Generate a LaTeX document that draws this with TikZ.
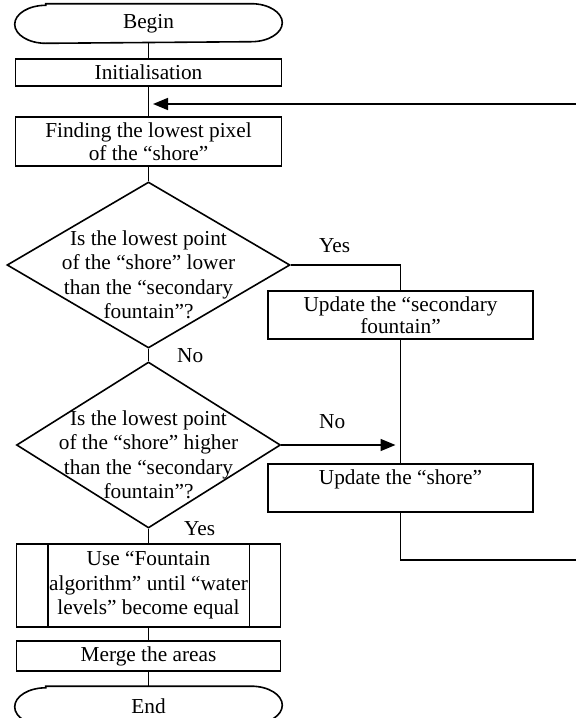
\documentclass[tikz,border=0pt]{standalone}
\usepackage{fontspec}
\setmainfont{Liberation Serif}
\usetikzlibrary{shapes.geometric,arrows.meta}

\begin{document}
\begin{tikzpicture} [x=1pt,y=-1pt,
			every node/.style={font=\fontsize{21.3}{22.5}\selectfont},
			wide lines/.style={font=\fontsize{21.3}{24.5}\selectfont},
			process/.style={draw,rectangle,minimum width=266pt,inner sep=0pt,align=center},
			decision/.style={draw,diamond,inner sep=0pt,minimum height=166pt},
			terminal/.style={rectangle,minimum width=266pt,minimum height=38pt,inner sep=0pt},
			line width=1.6pt,>={Triangle[length=15pt,width=12pt]}]
			\useasboundingbox (0,0) rectangle (576,718);

			\node[terminal] (start) at (148.5,23.5) {Begin};
			\node[process,minimum height=27pt] (init) at (148.5,72.5) {Initialisation};
			\node[process,minimum height=49pt] (find) at (148.5,141.5) {Finding the lowest pixel\\of the “shore”};
			\node[decision,minimum width=283pt] (q_1) at (148.5,265) {};
			\node[wide lines,align=center] (q_1 text) at (148.5,275) {Is the lowest point\\of the “shore” lower\\than the “secondary\\fountain”?};
			\node[decision,minimum width=264pt] (q_2) at (148.5,445) {};
			\node[wide lines,align=center] (q_2 text) at (148.5,455) {Is the lowest point\\of the “shore” higher\\than the “secondary\\fountain”?};
			\node[process,wide lines,minimum width=264pt,minimum height=83pt] (algo) at (148.5,585.5) {Use “Fountain\\algorithm” until “water\\levels” become equal};
			\node[process,minimum width=264pt,minimum height=30pt] (merge) at (148.5,656) {Merge the areas};
			\node[terminal] (stop) at (148.5,706) {End};

			\node[process,minimum width=265pt,minimum height=48pt] (upd_1) at (400.5,315) {Update the “secondary\\fountain”};
			\node[process,minimum width=265pt,minimum height=48pt] (upd_2) at (400.5,488) {Update the “shore”\\\mbox{}};

			\foreach \term in {start,stop}
				\draw ([xshift=31pt]\term.north west) -- ([xshift=-31pt]\term.north east)
					arc[start angle=90,end angle=-90,x radius=31pt,y radius=19pt]
					-- ([xshift=31pt]\term.south west)
					arc[start angle=270,end angle=90,x radius=31pt,y radius=19pt] -- cycle;
			\draw ([xshift=32pt]algo.north west) -- ([xshift=32pt]algo.south west);
			\draw ([xshift=-32pt]algo.north east) -- ([xshift=-32pt]algo.south east);

			\coordinate (joint) at (q_2.east -| upd_2.north);
			\coordinate (loop) at (580,560);
			\coordinate (back) at (153,104);

			\draw (start) -- (init);
			\draw (init) -- (find);
			\draw (find) -- (q_1);
			\draw (q_1) -- (q_2);
			\draw (q_1.east) -| (upd_1.north);
			\draw (upd_1) -- (upd_2);
			\draw[->] (q_2.east) -- ([xshift=-5pt]joint);
			\draw (q_2) -- (algo);
			\draw (algo) -- (merge);
			\draw (merge) -- (stop);
			\draw[->] (upd_2.south) |- (loop) |- (back);

			\node[anchor=base west] (yes_1) at (315,252) {Yes};
			\node[anchor=base west] (no_1) at (173,362) {No};
			\node[anchor=base west] (no_2) at (315,428) {No};
			\node[anchor=base west] (yes_2) at (180,535) {Yes};
		\end{tikzpicture}
\end{document}
